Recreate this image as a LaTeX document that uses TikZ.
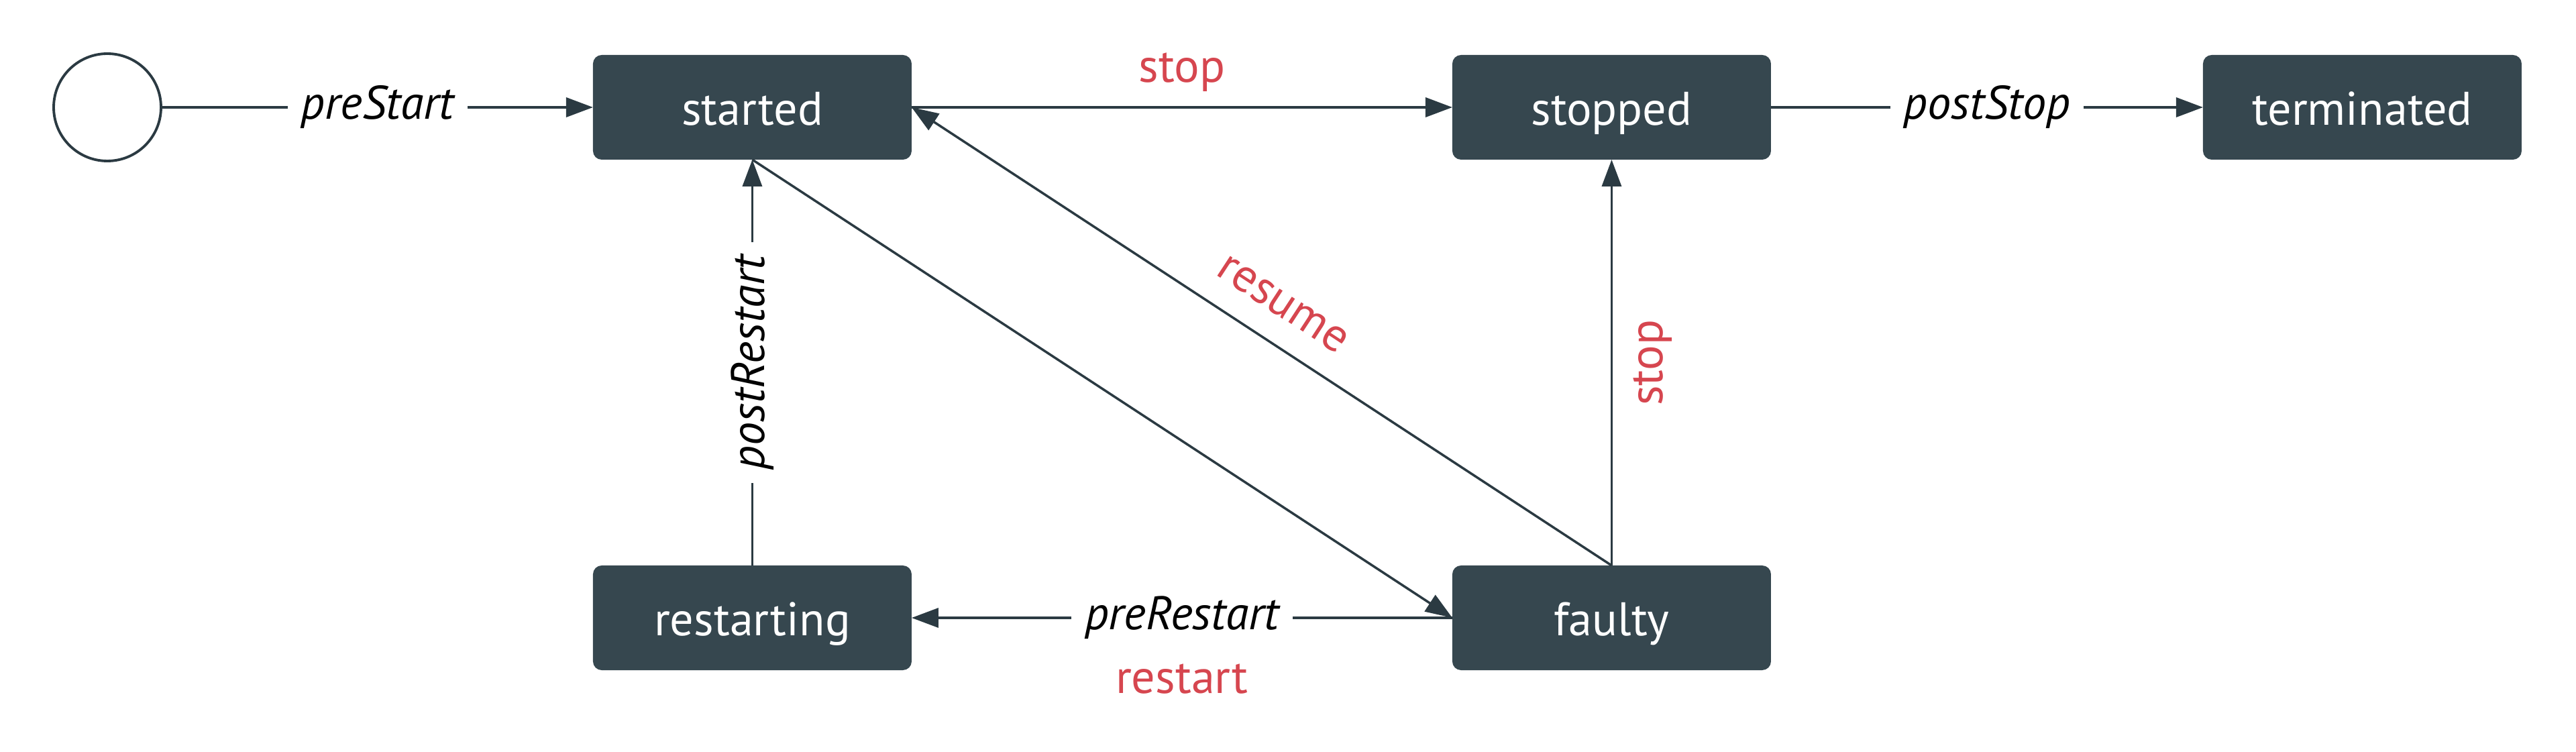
\documentclass[tikz,border=0pt]{standalone}
\usepackage{fontspec}
\setmainfont{PT Sans}
\usetikzlibrary{positioning,arrows.meta}

\definecolor{boxgrey}{HTML}{36474F}
\definecolor{linegrey}{HTML}{2B3A42}
\definecolor{evred}{HTML}{D6464F}

\tikzset{
  state/.style={rectangle, rounded corners=0.13cm, fill=boxgrey, text=white,
    minimum width=4.75cm, minimum height=1.56cm, inner sep=0pt, outer sep=0pt,
    text height=0.54cm, text depth=0pt},
  initstate/.style={circle, draw=linegrey, line width=1.1pt, minimum size=1.6cm, inner sep=0pt},
  trans/.style={draw=linegrey, line width=1pt, -{Triangle[length=0.4cm, width=0.29cm]}},
  hook/.style={fill=white, inner xsep=0.2cm, font=\fontsize{20}{24}\selectfont\itshape},
  event/.style={text=evred}
}

\begin{document}
\begin{tikzpicture}[font=\fontsize{20}{24}\selectfont]

  \useasboundingbox (0,0) rectangle (38.4,11.2);

  \node (init) [initstate] at (1.60,9.60) {};
  \node (started) [state, right=6.42cm of init] {started};
  \node (stopped) [state, right=8.06cm of started] {stopped};
  \node (terminated) [state, right=6.44cm of stopped] {terminated};
  \node (restarting) [state, below=6.05cm of started] {restarting};
  \node (faulty) [state, right=8.06cm of restarting] {faulty};

  \draw [trans] (init) -- (started) node [midway, hook] {preStart};
  \draw [trans] (started) -- (stopped) node [midway, above=0.1cm, event] {stop};
  \draw [trans] (stopped) -- (terminated) node [midway, hook] {postStop};
  \draw [trans] (started.south) -- (faulty.west);
  \draw [trans] (faulty.north) -- (started.east) node [midway, sloped, above=0.25cm, event] {resume};
  \draw [trans] (faulty.north) -- (stopped.south) node [midway, sloped, below=0.19cm, event] {stop};
  \draw [trans] (faulty.west) -- (restarting.east)
    node [midway, hook] {preRestart}
    node [midway, below=0.55cm, event] {restart};
  \draw [trans] (restarting.north) -- (started.south) node [midway, sloped, hook] {postRestart};

\end{tikzpicture}
\end{document}
